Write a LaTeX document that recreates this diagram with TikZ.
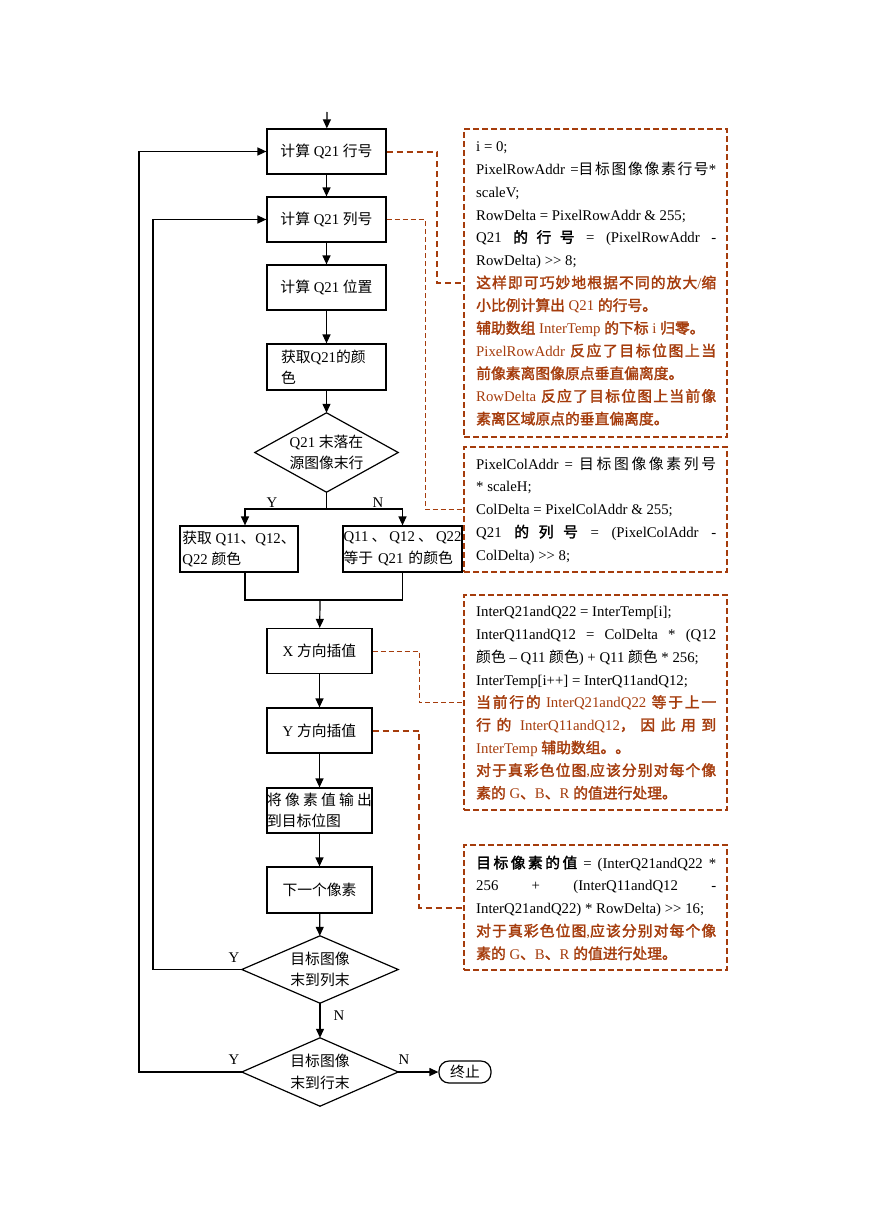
\documentclass[tikz,border=0pt]{standalone}
\usepackage{fontspec}
\setmainfont{Liberation Serif}
\newfontfamily\zhfont{Noto Sans CJK SC}[BoldFont={Noto Sans CJK SC},BoldFeatures={FakeBold=2}]
\usetikzlibrary{shapes.geometric,arrows.meta}
\XeTeXinterchartokenstate=1
\newXeTeXintercharclass\CJKcls
\newcount\zhc
\zhc="3000
\loop
  \XeTeXcharclass\zhc=\CJKcls
  \advance\zhc by 1
\ifnum\zhc<"A000 \repeat
\zhc="FF00
\loop
  \XeTeXcharclass\zhc=\CJKcls
  \advance\zhc by 1
\ifnum\zhc<"FFF0 \repeat
\def\zhswitch{\zhfont}
\def\latswitch{\rmfamily}
\XeTeXinterchartoks 0 \CJKcls = {\zhswitch}
\XeTeXinterchartoks 4095 \CJKcls = {\zhswitch}
\XeTeXinterchartoks \CJKcls 0 = {\latswitch}
\XeTeXinterchartoks \CJKcls 4095 = {\latswitch}
\newcommand\zhB{\def\zhswitch{\zhfont\bfseries}\def\latswitch{\rmfamily\mdseries}}
\newcommand\shiftr{>\kern0pt>}
\XeTeXlinebreaklocale "zh"
\XeTeXlinebreakskip=0pt plus 2pt
\definecolor{brn}{RGB}{165,60,12}
\begin{document}
\begin{tikzpicture}[x=1pt,y=-1pt,
  every node/.style={font=\fontsize{14.8}{21.5}\selectfont},
  box/.style={draw,line width=1.2pt,rectangle,minimum width=119pt,minimum height=45pt,inner sep=0pt},
  sbox/.style={draw,line width=1.2pt,rectangle,minimum width=105pt,minimum height=45pt,inner sep=0pt},
  dia/.style={rectangle,inner sep=0pt,align=center},
  diaborder/.style={line width=1.2pt,line join=miter},
  arr/.style={line width=1.2pt,-{Triangle[length=9pt,width=8pt]}},
  ln/.style={line width=1.2pt},
  lp/.style={line width=1.5pt,-{Triangle[length=9pt,width=8pt]}},
  notebox/.style={draw=brn,line width=1.3pt,dash pattern=on 6pt off 3pt,minimum width=263pt,inner sep=0pt},
  notetext/.style={anchor=north west,inner sep=0pt,text width=240pt,align=justify,font=\fontsize{14.8}{22.7}\selectfont},
  dthick/.style={draw=brn,line width=2pt,dash pattern=on 6pt off 4pt},
  dthin/.style={draw=brn,line width=1pt,dash pattern=on 5pt off 3pt},
  lbl/.style={inner sep=0pt}
]
\useasboundingbox (0,0) rectangle (869,1228);

% main flow
\coordinate (top) at (327,112);
\node[box] (b1) at (326.5,151.5) {计算 Q21 行号};
\node[box] (b2) at (326.5,219.5) {计算 Q21 列号};
\node[box] (b3) at (326.5,287.5) {计算 Q21 位置};
\node[box,minimum height=46pt,inner xsep=14pt,text width=91pt,align=left] (b4) at (326.5,367) {获取Q21的颜\\色};
\node[dia,minimum width=143pt,minimum height=79pt] (d1) at (326.5,452.5) {Q21 末落在\\源图像末行};
\draw[diaborder] (d1.north) -- (d1.east) -- (d1.south) -- (d1.west) -- cycle;
\node[box,minimum width=118pt,minimum height=46pt,align=left] (bl) at (239,549) {获取 Q11、Q12、\\Q22 颜色};
\node[box,minimum width=119pt,minimum height=46pt,text width=118pt,align=left] (br) at (402.5,549) {Q11\hfill 、\hfill Q12\hfill 、\hfill Q22\\等于 Q21 的颜色};
\node[sbox] (bx) at (319.5,651) {X 方向插值};
\node[sbox] (by) at (319.5,730.5) {Y 方向插值};
\node[sbox,text width=105pt,align=left] (bo) at (319.5,810.5) {将\hfill 像\hfill 素\hfill 值\hfill 输\hfill 出\\到目标位图};
\node[sbox,minimum height=46pt] (bn) at (319.5,890) {下一个像素};
\node[dia,minimum width=156pt,minimum height=67pt] (d2) at (320,969.5) {目标图像\\末到列末};
\draw[diaborder] (d2.north) -- (d2.east) -- (d2.south) -- (d2.west) -- cycle;
\node[dia,minimum width=156pt,minimum height=68pt] (d3) at (320,1072) {目标图像\\末到行末};
\draw[diaborder] (d3.north) -- (d3.east) -- (d3.south) -- (d3.west) -- cycle;
\node[draw,line width=1.2pt,rounded corners=10pt,minimum width=52pt,minimum height=22pt,inner sep=0pt] (end) at (465,1072) {终止};

\coordinate (j1) at (326.5,509);
\coordinate (j2) at (320,600);
\coordinate (L1) at (139,0);
\coordinate (L2) at (153,0);

\draw[arr] (top) -- (b1);
\draw[arr] (b1) -- (b2);
\draw[arr] (b2) -- (b3);
\draw[arr] (b3) -- (b4);
\draw[arr] (b4) -- (d1);
\draw[ln] (d1.south) -- (j1);
\draw[arr] (j1) -| ([xshift=6pt]bl.north);
\draw[arr] (j1) -| (br.north);
\draw[ln] ([xshift=6pt]bl.south) |- (j2);
\draw[ln] (br.south) |- (j2);
\draw[arr] (j2) -- (bx);
\draw[arr] (bx) -- (by);
\draw[arr] (by) -- (bo);
\draw[arr] (bo) -- (bn);
\draw[arr] (bn) -- (d2);
\draw[arr] (d2) -- (d3);
\draw[arr] (d3) -- (end);
\draw[lp] (d2.west) -- (d2.west -| L2) |- (b2.west);
\draw[lp] (d3.west) -- (d3.west -| L1) |- (b1.west);

\node[lbl] (ly1) at (272,503) {Y};
\node[lbl] (ln1) at (378,503) {N};
\node[lbl] (ly2) at (234,958) {Y};
\node[lbl] (ln2) at (339,1016) {N};
\node[lbl] (ly3) at (234,1060) {Y};
\node[lbl] (ln3) at (404,1060) {N};

% notes
\node[notebox,minimum height=308pt] (n1) at (595.5,283) {};
\node[notebox,minimum height=125pt] (n2) at (595.5,509.5) {};
\node[notebox,minimum height=215pt] (n3) at (595.5,702.5) {};
\node[notebox,minimum height=125pt] (n4) at (595.5,907.5) {};

\node[notetext] (t1) at (476,138.7) {\tolerance=10000\parindent=0pt\rule{0pt}{13pt}i = 0;\par
PixelRowAddr =目标图像像素行号*\linebreak scaleV;\par
RowDelta = PixelRowAddr \& 255;\par
Q21 {\zhB 的行号} = (PixelRowAddr -\linebreak RowDelta) \shiftr{} 8;\par
\color{brn}\zhB 这样即可巧妙地根据不同的放大/缩\linebreak 小比例计算出 Q21 的行号。\par
辅助数组 InterTemp 的下标 i 归零。\par
PixelRowAddr 反应了目标位图上当\linebreak 前像素离图像原点垂直偏离度。\par
RowDelta 反应了目标位图上当前像\linebreak 素离区域原点的垂直偏离度。};

\node[notetext] (t2) at (476,456) {\tolerance=10000\parindent=0pt\rule{0pt}{13pt}PixelColAddr = 目标图像像素列号\linebreak * scaleH;\par
ColDelta = PixelColAddr \& 255;\par
Q21 {\zhB 的列号} = (PixelColAddr -\linebreak ColDelta) \shiftr{} 8;};

\node[notetext] (t3) at (476,603.7) {\tolerance=10000\parindent=0pt\rule{0pt}{13pt}InterQ21andQ22 = InterTemp[i];\par
InterQ11andQ12 = ColDelta * (Q12\linebreak 颜色 – Q11 颜色) + Q11 颜色 * 256;\par
InterTemp[i++] = InterQ11andQ12;\par
\color{brn}\zhB 当前行的 InterQ21andQ22 等于上一\linebreak 行的 InterQ11andQ12，因此用到\linebreak InterTemp 辅助数组。。\par
对于真彩色位图,应该分别对每个像\linebreak 素的 G、B、R 的值进行处理。};

\node[notetext] (t4) at (476,855) {\tolerance=10000\parindent=0pt\rule{0pt}{13pt}{\zhB 目标像素的值} = (InterQ21andQ22 *\linebreak 256 + (InterQ11andQ12 -\linebreak InterQ21andQ22) * RowDelta) \shiftr{} 16;\par
\color{brn}\zhB 对于真彩色位图,应该分别对每个像\linebreak 素的 G、B、R 的值进行处理。};

% dashed connectors
\coordinate (c1) at (437,0);
\coordinate (c2) at (425,0);
\coordinate (c3) at (419,0);
\draw[dthick] (b1.east) -- (b1.east -| c1) |- (n1.west);
\draw[dthin] (b2.east) -- (b2.east -| c2) |- (n2.west);
\draw[dthin] (bx.east) -- (bx.east -| c3) |- (n3.west);
\draw[dthick] (by.east) -- (by.east -| c3) |- (n4.west);
\end{tikzpicture}
\end{document}
